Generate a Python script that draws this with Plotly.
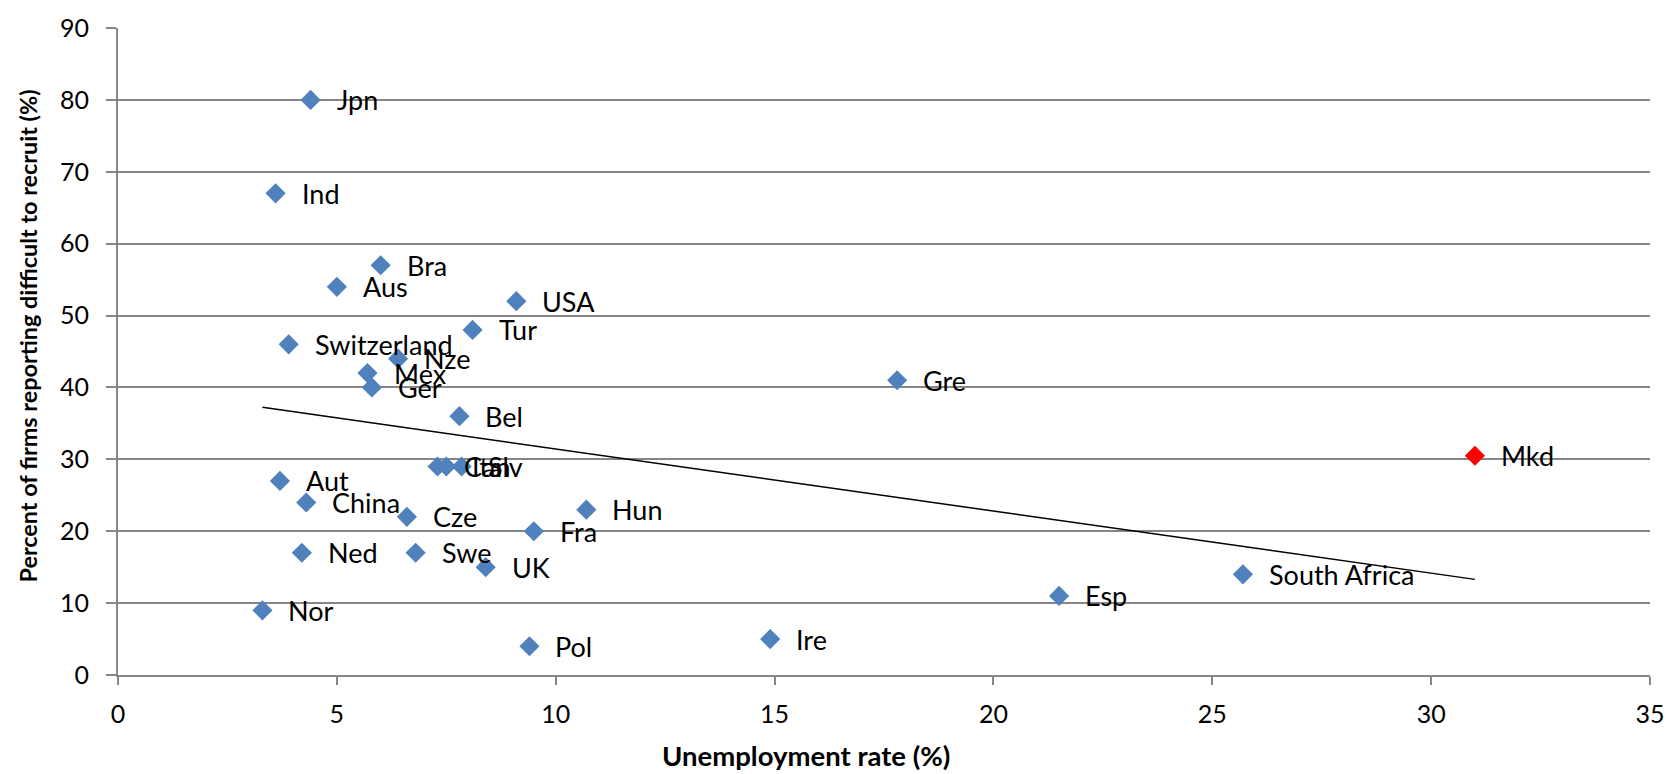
import numpy as np
import plotly.graph_objects as go

# Countries: unemployment rate (%) vs share of firms reporting difficulty to recruit (%)
countries = ["Jpn", "Ind", "Bra", "Aus", "USA", "Tur", "Switzerland", "Nze", "Mex", "Ger",
             "Gre", "Bel", "Can", "Ita", "Slv", "Aut", "China", "Cze", "Hun", "Fra",
             "Ned", "Swe", "UK", "Nor", "Pol", "Ire", "Esp", "South Africa"]
unemployment = [4.4, 3.6, 6.0, 5.0, 9.1, 8.1, 3.9, 6.4, 5.7, 5.8,
                17.8, 7.8, 7.3, 7.5, 7.85, 3.7, 4.3, 6.6, 10.7, 9.5,
                4.2, 6.8, 8.4, 3.3, 9.4, 14.9, 21.5, 25.7]
difficulty = [80, 67, 57, 54, 52, 48, 46, 44, 42, 40,
              41, 36, 29, 29, 29, 27, 24, 22, 23, 20,
              17, 17, 15, 9, 4, 5, 11, 14]

# Highlighted country
hl_country = ["Mkd"]
hl_unemployment = [31.0]
hl_difficulty = [30.5]

FONT = "Lato, Carlito, Calibri, sans-serif"
BLUE = "#4F81BD"
GRID = "#868686"

fig = go.Figure()

fig.add_trace(go.Scatter(
    x=unemployment, y=difficulty, mode="markers",
    marker=dict(symbol="diamond", size=15.5, color=BLUE),
    showlegend=False, hoverinfo="x+y+text", text=countries,
))
fig.add_trace(go.Scatter(
    x=hl_unemployment, y=hl_difficulty, mode="markers",
    marker=dict(symbol="diamond", size=15.5, color="#FF0000"),
    showlegend=False, hoverinfo="x+y+text", text=hl_country,
))

# Linear trend over all countries
all_x = np.array(unemployment + hl_unemployment)
all_y = np.array(difficulty + hl_difficulty)
slope, intercept = np.polyfit(all_x, all_y, 1)
tx = np.array([all_x.min(), all_x.max()])
fig.add_trace(go.Scatter(
    x=tx, y=slope * tx + intercept, mode="lines",
    line=dict(color="black", width=1.5), showlegend=False, hoverinfo="skip",
))

# Country labels to the right of each marker
for name, xv, yv in zip(countries + hl_country, unemployment + hl_unemployment,
                        difficulty + hl_difficulty):
    fig.add_annotation(x=xv, y=yv, text=name, showarrow=False,
                       xanchor="left", yanchor="middle", xshift=24,
                       font=dict(family=FONT, size=27, color="black"))

# Axis titles
fig.add_annotation(xref="paper", yref="paper", x=0.449, y=-0.1245,
                   text="<b>Unemployment rate (%)</b>", showarrow=False,
                   xanchor="center", yanchor="middle",
                   font=dict(family=FONT, size=27.5, color="black"))
fig.add_annotation(xref="paper", yref="paper", x=-0.0585, y=0.5237,
                   text="<b>Percent of firms reporting difficult to recruit (%)</b>",
                   showarrow=False, textangle=-90,
                   xanchor="center", yanchor="middle",
                   font=dict(family=FONT, size=23.4, color="black"))

fig.update_layout(
    width=1677, height=774,
    margin=dict(l=118, r=27, t=22, b=99),
    paper_bgcolor="white", plot_bgcolor="white",
    font=dict(family=FONT, size=25, color="black"),
)
fig.update_xaxes(
    range=[0, 35], dtick=5, tick0=0, showgrid=False, zeroline=False,
    showline=True, linecolor=GRID, linewidth=2,
    ticks="outside", ticklen=8, tickcolor=GRID, tickwidth=2,
    ticklabelstandoff=8,
    tickfont=dict(family=FONT, size=25),
)
fig.update_yaxes(
    range=[0, 90], dtick=10, tick0=0, showgrid=True, gridcolor=GRID, gridwidth=2,
    zeroline=False, showline=True, linecolor=GRID, linewidth=2,
    ticks="outside", ticklen=10, tickcolor=GRID, tickwidth=2,
    ticklabelstandoff=12,
    tickfont=dict(family=FONT, size=25),
)

fig.write_html("out.html")
